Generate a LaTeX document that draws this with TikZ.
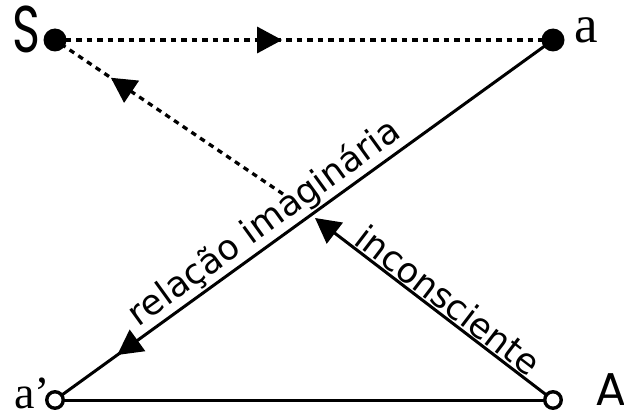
\documentclass[tikz,border=0pt]{standalone}
\usepackage{fontspec}
\usetikzlibrary{arrows.meta,decorations.markings,backgrounds}
\newfontfamily\geo{Poppins}
\newfontfamily\lab{DejaVu Sans}
\newfontfamily\serf{Liberation Serif}
\begin{document}
\begin{tikzpicture}[x=1pt,y=-1pt,
  >={Triangle[length=25pt,width=26pt]},
  ln/.style={line width=3pt},
  dsh/.style={line width=3.3pt, dash pattern=on 5.5pt off 5pt},
  marr/.style={postaction={decorate, decoration={markings, mark=at position #1 with {\arrow{>}}}}},
  fdot/.style={circle, fill=black, inner sep=0pt, minimum size=23pt},
  odot/.style={circle, draw=black, fill=white, line width=3.4pt, inner sep=0pt, minimum size=16.5pt},
  lbl/.style={font=\lab\fontsize{35}{35}\selectfont, sloped, above, inner sep=2.5pt},
  ser/.style={inner sep=0pt}
]
\useasboundingbox (0,0) rectangle (624,412);
\node[fdot] (S) at (55,40) {};
\node[fdot] (a) at (553,40) {};
\node[odot] (ap) at (55,400) {};
\node[odot] (A) at (553,400) {};
\coordinate (d) at (283,194);
\coordinate (t) at (315,218);
\begin{pgfonlayer}{background}
\draw[dsh, marr=0.456] (S.center) -- (a.center);
\draw[dsh, marr=0.755] (d) -- (S.center);
\draw[ln, marr=0.875] (a.center) -- (ap.center);
\draw[ln, ->] (A.center) -- (t);
\draw[ln] (ap.center) -- (A.center);
\end{pgfonlayer}
\path (ap.center) -- (a.center) node[lbl, pos=0.445] (l1) {relação imaginária};
\path (t) -- (A.center) node[lbl, pos=0.52] (l2) {inconsciente};
\node[inner sep=0pt, anchor=base] (Sl) at (26,53) {\scalebox{0.72}[1]{\geo\fontsize{66}{66}\selectfont S}};
\node[inner sep=0pt, anchor=base west] (Al) at (595,405) {\geo\fontsize{46}{46}\selectfont A};
\node[ser, anchor=base west] (al) at (574,43) {\serf\fontsize{53}{53}\selectfont a};
\node[ser, anchor=base west] (apl) at (14,408) {\serf\fontsize{46}{46}\selectfont a’};
\end{tikzpicture}
\end{document}
